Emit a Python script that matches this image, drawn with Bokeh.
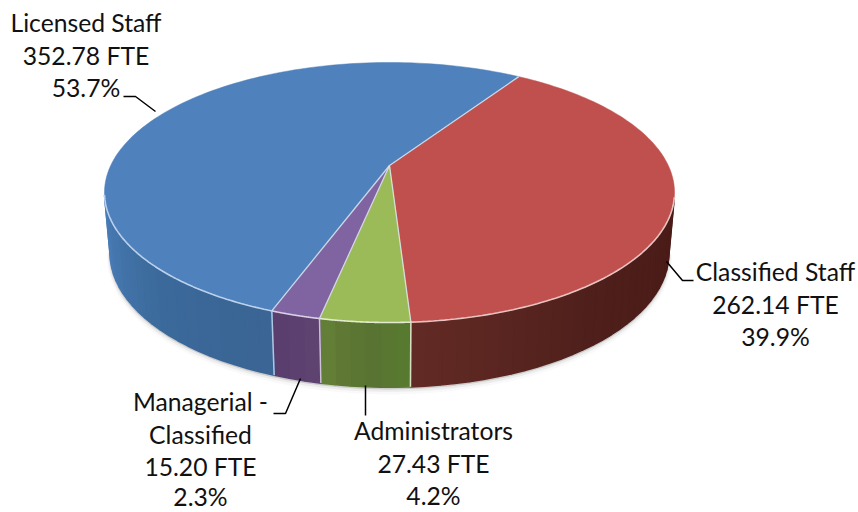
import numpy as np
from bokeh.plotting import figure
from bokeh.embed import file_html
from bokeh.resources import INLINE
from bokeh.core.properties import value

categories = ["Classified Staff", "Administrators", "Managerial - Classified", "Licensed Staff"]
fte = [262.14, 27.43, 15.20, 352.78]
top_colors = ["#c0504d", "#9bbb59", "#8064a2", "#4f81bd"]
edge_colors = ["#e8c4c2", "#e2ebd0", "#d9cfe6", "#bcd2ec"]
wall_stops = [
    [(0, "#4a1b17"), (0.5, "#4e1f1b"), (1, "#632b25")],
    [(0, "#587a30"), (0.5, "#5a7433"), (1, "#658038")],
    [(0, "#5f4472"), (1, "#5a3f6e")],
    [(0, "#3a6594"), (0.45, "#3c6a9c"), (0.75, "#4475ab"), (1, "#4a7db8")],
]
label_lines = [
    (["Classified Staff", "262.14 FTE", "39.9%"], 775, [271, 304, 336]),
    (["Administrators", "27.43 FTE", "4.2%"], 433, [430, 463, 495]),
    (["Managerial -", "Classified", "15.20 FTE", "2.3%"], 200, [401, 434, 466, 496]),
    (["Licensed Staff", "352.78 FTE", "53.7%"], 85.5, [22, 55, 87]),
]
leaders = [
    ([666, 682, 693], [261, 280, 280]),
    ([365, 365], [385, 415]),
    ([300, 285, 273], [378, 413, 413]),
    ([123, 135, 155], [96, 96, 111]),
]

CX, CY, K, A, C = 389.0, 165.0, 0.2077, 124.4, 278.8
START = 33.0


def ring(theta, sx=1.0, sy=1.0, d=0.0):
    t = np.radians(theta)
    u, v = np.sin(t), np.cos(t)
    w = 1 + K * v
    return CX + sx * C * u / w, CY + d - sy * A * v / w


p = figure(width=858, height=512, x_range=(0, 858), y_range=(512, 0),
           output_backend="svg", toolbar_location=None, min_border=0)
p.axis.visible = False
p.grid.visible = False
p.outline_line_color = None
p.background_fill_color = "white"

sweeps = np.array(fte) / np.sum(fte) * 360
bounds = START + np.concatenate([[0], np.cumsum(sweeps)])
FRONT_A, FRONT_B = 104.0, 257.0

# soft shadow under the rim
th = np.linspace(FRONT_A - 3, FRONT_B + 3, 200)
for off, a, w in [(4, 0.05, 6), (2.5, 0.10, 4), (1.2, 0.30, 2)]:
    sx, sy_ = ring(th, 0.98, 1.03, 60 + off)
    p.line(sx, sy_, line_color="#808080", line_alpha=a, line_width=w)

# side wall
for i in range(4):
    a0, a1 = max(bounds[i], FRONT_A), min(bounds[i + 1], FRONT_B)
    if a1 <= a0:
        continue
    steps = max(2, int((a1 - a0) / 2.5))
    edges = np.linspace(a0, a1, steps + 1)
    pos = [s[0] for s in wall_stops[i]]
    rgb = np.array([[int(s[1][j:j + 2], 16) for j in (1, 3, 5)] for s in wall_stops[i]])
    xs, ys, cols = [], [], []
    for e0, e1 in zip(edges[:-1], edges[1:]):
        x0, y0 = ring(np.array([e0, e1]))
        x1, y1 = ring(np.array([e1, e0]), 0.98, 1.03, 60)
        xs.append(list(x0) + list(x1))
        ys.append(list(y0) + list(y1))
        f = ((e0 + e1) / 2 - a0) / (a1 - a0)
        c = [int(np.interp(f, pos, rgb[:, k])) for k in range(3)]
        cols.append("#%02x%02x%02x" % tuple(c))
    p.patches(xs, ys, fill_color=cols, line_color=cols, line_width=1.6)
    # vertical seam at the slice's start
    if bounds[i] >= FRONT_A and i > 0:
        bx, by = ring(np.array([bounds[i]]))
        lx, ly = ring(np.array([bounds[i]]), 0.98, 1.03, 60)
        p.line([bx[0], lx[0]], [by[0], ly[0]], line_color=edge_colors[i], line_width=1.5, line_alpha=0.9)

# top face
for i in range(4):
    arc = np.linspace(bounds[i], bounds[i + 1], 120)
    ax, ay = ring(arc)
    p.patch(np.r_[CX, ax], np.r_[CY, ay], fill_color=top_colors[i], line_color=top_colors[i], line_width=0.5)

# front rim highlight and radial seams
for i in range(4):
    a0, a1 = max(bounds[i], FRONT_A), min(bounds[i + 1], FRONT_B)
    if a1 > a0:
        ax, ay = ring(np.linspace(a0, a1, 80))
        p.line(ax, ay, line_color=edge_colors[i], line_width=1.6)
for i in range(4):
    bx, by = ring(np.array([bounds[i]]))
    p.line([CX, bx[0]], [CY, by[0]], line_color="#dfe6ee", line_width=1.3, line_alpha=0.85)

for xs_, ys_ in leaders:
    p.line(xs_, ys_, line_color="black", line_width=1.5)

for lines, x, ys_ in label_lines:
    p.text([x] * len(lines), ys_, text=lines, text_font=value("Lato"), text_font_size="24.7px",
           text_align="center", text_baseline="middle", text_color="#111111")

open("out.html", "w").write(file_html(p, INLINE))
